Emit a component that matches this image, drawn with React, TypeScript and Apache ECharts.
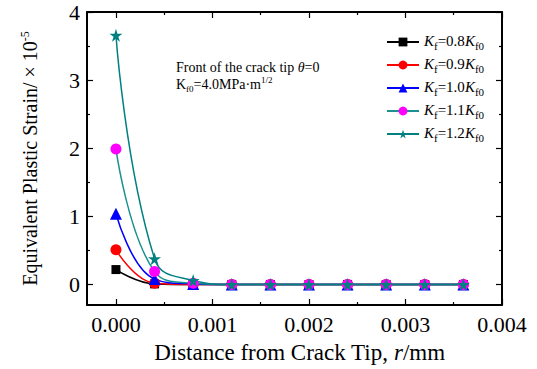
import React, { useEffect, useRef } from "react";
import * as echarts from "echarts";

const xValues = [0, 0.0004, 0.0008, 0.0012, 0.0016, 0.002, 0.0024, 0.0028, 0.0032, 0.0036];
const seriesNames = ["0.8", "0.9", "1.0", "1.1", "1.2"];
const s08 = [0.22, 0.01, 0.0, 0, 0, 0, 0, 0, 0, 0];
const s09 = [0.51, 0.02, 0.0, 0, 0, 0, 0, 0, 0, 0];
const s10 = [1.04, 0.08, 0.01, 0, 0, 0, 0, 0, 0, 0];
const s11 = [1.99, 0.19, 0.02, 0, 0, 0, 0, 0, 0, 0];
const s12 = [3.66, 0.38, 0.06, 0, 0, 0, 0, 0, 0, 0];
const xMajor = [0, 0.001, 0.002, 0.003, 0.004];
const xMinor = [0.0005, 0.0015, 0.0025, 0.0035];
const yMajor = [0, 1, 2, 3, 4];
const yMinor = [0.5, 1.5, 2.5, 3.5];

const STAR = "path://M50,0 L61,35 L98,35 L68,57 L79,91 L50,70 L21,91 L32,57 L2,35 L39,35 Z";
const FONT = "Liberation Serif";

export default function App() {
  const ref = useRef<HTMLDivElement>(null);
  useEffect(() => {
    const chart = echarts.init(ref.current!, undefined, { renderer: "svg" });
    const lineColors = ["#000000", "#ff0000", "#0000ff", "#1a9090", "#008080"];
    const markColors = ["#000000", "#ff0000", "#0000ff", "#ff00ff", "#008080"];
    const symbols = ["rect", "circle", "triangle", "circle", STAR];
    const sizes = [9, 11, 12, 11, 13];
    const vals = [s08, s09, s10, s11, s12];
    const xMin = -0.0003, xMax = 0.004, yMin = -0.3, yMax = 4;
    const fmtX = (v: number) => v.toFixed(3);
    const axisBase = { type: "value", gridIndex: 0, splitLine: { show: false } };
    const tick = { color: "#000", width: 1.2 };
    const hiddenLine = { show: false, onZero: false };
    const option: any = {
      animation: false,
      backgroundColor: "#ffffff",
      textStyle: { fontFamily: FONT },
      grid: { left: 87, right: 35, top: 12, bottom: 62 },
      xAxis: [
        {
          ...axisBase, min: xMin, max: xMax, position: "bottom",
          axisLine: { show: true, onZero: false, lineStyle: { color: "#000", width: 2 } },
          axisTick: { show: true, inside: true, length: 6, customValues: xMajor, lineStyle: tick },
          axisLabel: { show: true, customValues: xMajor, formatter: fmtX, color: "#000", fontSize: 22, fontFamily: FONT, margin: 8 },
          name: "{n|Distance from Crack Tip, }{i|r}{n|/mm}",
          nameLocation: "middle", nameGap: 36,
          nameTextStyle: { padding: [0, 0, 0, 10], rich: { n: { fontSize: 23, fontFamily: FONT, color: "#000" }, i: { fontSize: 23, fontFamily: FONT, fontStyle: "italic", color: "#000" } } },
        },
        {
          ...axisBase, min: xMin, max: xMax, position: "bottom",
          axisLine: hiddenLine,
          axisTick: { show: true, inside: true, length: 3, customValues: xMinor, lineStyle: tick },
          axisLabel: { show: false },
        },
        {
          ...axisBase, min: xMin, max: xMax, position: "top",
          axisLine: { show: true, onZero: false, lineStyle: { color: "#000", width: 2 } },
          axisTick: { show: true, inside: true, length: 6, customValues: xMajor, lineStyle: tick },
          axisLabel: { show: false },
        },
        {
          ...axisBase, min: xMin, max: xMax, position: "top",
          axisLine: hiddenLine,
          axisTick: { show: true, inside: true, length: 3, customValues: xMinor, lineStyle: tick },
          axisLabel: { show: false },
        },
      ],
      yAxis: [
        {
          ...axisBase, min: yMin, max: yMax, position: "left",
          axisLine: { show: true, onZero: false, lineStyle: { color: "#000", width: 2 } },
          axisTick: { show: true, inside: true, length: 6, customValues: yMajor, lineStyle: tick },
          axisLabel: { show: true, customValues: yMajor, color: "#000", fontSize: 22, fontFamily: FONT, margin: 7 },
          name: "{n|Equivalent Plastic Strain/ × 10}{s|-5}",
          nameLocation: "middle", nameGap: 46, nameRotate: 90,
          nameTextStyle: { rich: { n: { fontSize: 20, fontFamily: FONT, color: "#000", lineHeight: 22 }, s: { fontSize: 12, fontFamily: FONT, color: "#000", verticalAlign: "top", lineHeight: 12 } } },
        },
        {
          ...axisBase, min: yMin, max: yMax, position: "left",
          axisLine: hiddenLine,
          axisTick: { show: true, inside: true, length: 3, customValues: yMinor, lineStyle: tick },
          axisLabel: { show: false },
        },
        {
          ...axisBase, min: yMin, max: yMax, position: "right",
          axisLine: { show: true, onZero: false, lineStyle: { color: "#000", width: 2 } },
          axisTick: { show: true, inside: true, length: 6, customValues: yMajor, lineStyle: tick },
          axisLabel: { show: false },
        },
        {
          ...axisBase, min: yMin, max: yMax, position: "right",
          axisLine: hiddenLine,
          axisTick: { show: true, inside: true, length: 3, customValues: yMinor, lineStyle: tick },
          axisLabel: { show: false },
        },
      ],
      legend: {
        orient: "vertical", left: 381, top: 28, itemWidth: 32, itemHeight: 11, itemGap: 5,
        data: seriesNames,
        formatter: (name: string) => `{i|K}{s|f}{n|=${name}}{i|K}{s|f0}`,
        textStyle: {
          rich: {
            i: { fontSize: 15, fontFamily: FONT, fontStyle: "italic", color: "#000", lineHeight: 18, verticalAlign: "top" },
            n: { fontSize: 15, fontFamily: FONT, color: "#000", lineHeight: 18, verticalAlign: "top" },
            s: { fontSize: 11, fontFamily: FONT, color: "#000", verticalAlign: "bottom", lineHeight: 12 },
          },
        },
      },
      graphic: [
        {
          type: "text", left: 176, top: 60,
          style: {
            text: "{n|Front of the crack tip }{i|θ}{n|=0}",
            rich: { n: { fontSize: 14, fontFamily: FONT, fill: "#000" }, i: { fontSize: 14, fontFamily: FONT, fontStyle: "italic", fill: "#000" } },
          },
        },
        {
          type: "text", left: 176, top: 75,
          style: {
            text: "{n|K}{s|f0}{n|=4.0MPa·m}{p|1/2}",
            rich: {
              n: { fontSize: 14, fontFamily: FONT, fill: "#000", lineHeight: 18, verticalAlign: "middle" },
              s: { fontSize: 9, fontFamily: FONT, fill: "#000", verticalAlign: "bottom", lineHeight: 10 },
              p: { fontSize: 9, fontFamily: FONT, fill: "#000", verticalAlign: "top", lineHeight: 10 },
            },
          },
        },
      ],
      series: seriesNames.map((n, k) => ({
        name: n,
        type: "line",
        xAxisIndex: 0,
        yAxisIndex: 0,
        smooth: 0.45,
        symbol: symbols[k],
        symbolSize: sizes[k],
        showAllSymbol: true,
        lineStyle: { color: lineColors[k], width: 1.5 },
        itemStyle: { color: markColors[k] },
        data: xValues.map((x, i) => [x, vals[k][i]]),
      })),
    };
    chart.setOption(option);
    return () => chart.dispose();
  }, []);
  return <div ref={ref} style={{ position: "fixed", left: 0, top: 0, width: 537, height: 369 }} />;
}
